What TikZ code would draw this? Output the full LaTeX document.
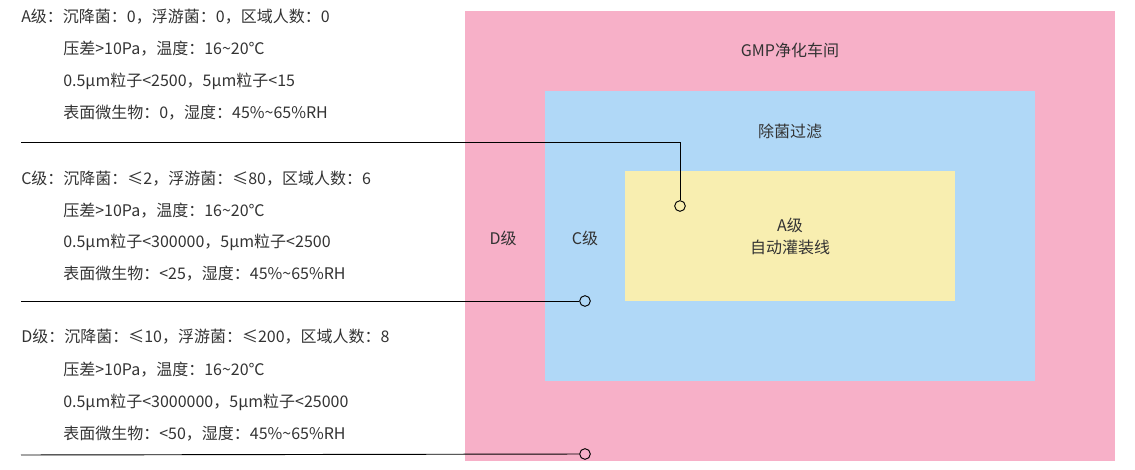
\documentclass[tikz,border=0pt]{standalone}
\usepackage{fontspec}
\setmainfont{Noto Sans CJK SC}
\usepackage{tikz}

\definecolor{gmppink}{RGB}{247,176,200}
\definecolor{filterblue}{RGB}{176,216,247}
\definecolor{lineyellow}{RGB}{248,238,176}
\definecolor{txtgray}{RGB}{51,51,51}

\begin{document}
\begin{tikzpicture}[x=0.75pt,y=0.75pt,yscale=-1,xscale=1,
  txt/.style={anchor=west,inner sep=0pt,text=txtgray,font=\fontsize{12}{14}\selectfont},
  lbl/.style={inner sep=0pt,text=txtgray,font=\fontsize{12}{14}\selectfont},
  dot/.style={circle,draw,line width=0.7pt,inner sep=0pt,minimum size=8pt}]
\useasboundingbox (0,0) rectangle (1135,470);

%Shape: Rectangle [GMP room]
\fill [gmppink] (465,11) rectangle (1115,461) ;
%Shape: Rectangle [filter zone]
\fill [filterblue] (545,91) rectangle (1035,381) ;
%Shape: Rectangle [filling line]
\fill [lineyellow] (625,171) rectangle (955,301) ;

% Text Node
\node [lbl] (gmp) at (790,50) {GMP净化车间};
% Text Node
\node [lbl] (filter) at (790,131) {除菌过滤};
% Text Node
\node [lbl] (agrade) at (790,225) {A级};
% Text Node
\node [lbl] (filling) at (790,247) {自动灌装线};
% Text Node
\node [lbl] (dgrade) at (503,238) {D级};
% Text Node
\node [lbl] (cgrade) at (585,238) {C级};

% Text Node
\node [txt] (a1) at (21,17) {A级：沉降菌：0，浮游菌：0，区域人数：0};
% Text Node
\node [txt] (a2) at (63,49) {压差>10Pa，温度：16\textasciitilde20℃};
% Text Node
\node [txt] (a3) at (63,81) {0.5μm粒子<2500，5μm粒子<15};
% Text Node
\node [txt] (a4) at (63,113) {表面微生物：0，湿度：45\%\textasciitilde65\%RH};
% Text Node
\node [txt] (c1) at (21,179) {C级：沉降菌：≤2，浮游菌：≤80，区域人数：6};
% Text Node
\node [txt] (c2) at (63,211) {压差>10Pa，温度：16\textasciitilde20℃};
% Text Node
\node [txt] (c3) at (63,242) {0.5μm粒子<300000，5μm粒子<2500};
% Text Node
\node [txt] (c4) at (63,274) {表面微生物：<25，湿度：45\%\textasciitilde65\%RH};
% Text Node
\node [txt] (d1) at (21,337) {D级：沉降菌：≤10，浮游菌：≤200，区域人数：8};
% Text Node
\node [txt] (d2) at (63,370) {压差>10Pa，温度：16\textasciitilde20℃};
% Text Node
\node [txt] (d3) at (63,402) {0.5μm粒子<3000000，5μm粒子<25000};
% Text Node
\node [txt] (d4) at (63,434) {表面微生物：<50，湿度：45\%\textasciitilde65\%RH};

%Shape: Circle
\node [dot] (dota) at (680,206) {};
%Shape: Circle
\node [dot] (dotc) at (585,301) {};
%Shape: Circle
\node [dot] (dotd) at (585,454) {};

\coordinate (starta) at (21,142);
\coordinate (startc) at (21,301);
\coordinate (startd) at (21,455);

%Straight Lines
\draw [line width=0.7pt] (starta) -| (dota) ;
%Straight Lines
\draw [line width=0.7pt] (startc) -- (dotc) ;
%Straight Lines
\draw [line width=0.7pt] (startd) -- (dotd) ;

\end{tikzpicture}
\end{document}
